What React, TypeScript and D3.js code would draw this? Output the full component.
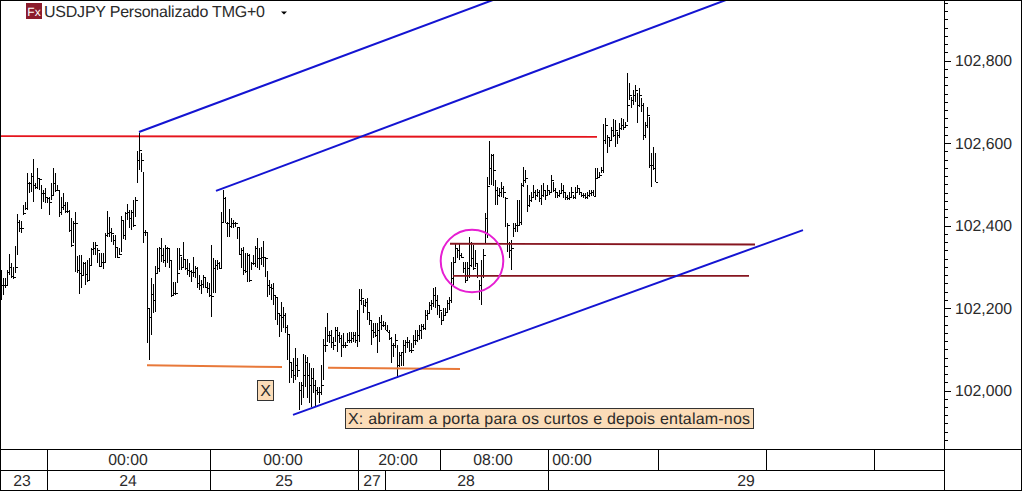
import React from "react";
import * as d3 from "d3";

// Prices are stored as points above the base price.
const PRICE_BASE = 102000;
const barHigh = [
  274,273,273,292,331,309,299,350,428,413, 411,450,457,527,505,527,561,503,539,515,
  498,486,491,469,469,503,539,527,498,486, 469,479,457,457,438,418,411,433,326,328,
  328,311,311,316,321,345,360,360,345,333, 333,333,382,435,421,394,377,377,348,345,
  423,413,433,452,438,438,462,469,581,624, 576,530,389,384,200,274,258,302,345,348,
  370,345,353,348,345,316,263,263,345,345, 323,360,319,319,309,292,323,302,299,280,
  268,280,275,263,261,353,321,316,316,311, 433,486,469,408,440,418,413,408,396,396,
  345,348,333,333,331,311,328,350,370,345, 348,362,323,290,268,258,261,231,224,188,
  214,202,188,159,137,69,79,103,79,21, 21,88,86,81,67,55,55,25,8,8,
  62,125,154,188,144,147,130,154,154,142, 135,139,118,139,142,142,142,142,195,246,
  246,219,222,224,188,171,164,164,164,178, 183,168,166,159,147,130,115,137,110,93,
  93,122,122,130,122,115,135,147,147,159, 161,161,195,195,214,219,248,251,231,207,
  190,200,200,219,227,311,323,358,345,358, 333,311,311,311,372,360,353,340,309,268,
  316,343,430,517,605,573,573,510,493,491, 505,496,469,406,360,365,406,406,462,462,
  503,542,534,498,474,481,498,486,488,486, 498,503,486,498,486,522,505,491,481,486,
  503,498,481,474,481,493,474,493,498,491, 481,479,479,481,486,486,486,539,539,530,
  542,647,660,619,614,638,658,655,626,648, 660,658,650,770,746,711,728,740,721,733,
  709,697,650,687,663,576,590,576,
];
const barLow = [
  219,232,248,256,280,273,270,285,328,384, 382,425,438,438,479,481,457,488,488,486,
  440,457,455,455,425,462,474,481,484,420, 425,438,430,430,384,348,358,287,285,234,
  248,280,256,263,265,304,328,328,309,299, 299,294,311,372,372,360,353,321,321,328,
  336,367,365,413,394,389,396,420,503,534, 530,358,374,115,73,134,188,190,285,287,
  311,309,299,309,297,226,231,231,261,292, 292,297,292,280,275,263,275,273,248,243,
  234,248,248,236,226,178,236,236,292,294, 297,406,406,372,372,394,394,396,367,328,
  297,280,285,263,263,292,304,299,297,292, 304,299,275,226,231,219,207,171,159,130,
  142,152,139,74,18,30,18,25,33,-47, -35,-18,8,-18,-30,-40,-6,-40,-11,-30,
  -11,25,93,118,115,103,98,118,93,115, 81,103,103,115,115,115,118,115,105,118,
  207,188,202,171,159,110,127,130,91,118, 147,154,147,142,122,67,81,103,30,57,
  59,59,91,103,93,91,103,110,118,122, 125,147,147,171,185,195,202,200,183,175,
  159,171,183,188,195,212,251,311,321,316, 321,285,261,268,273,299,292,299,273,219,
  207,273,357,369,498,498,496,450,450,469, 469,467,396,336,321,292,372,384,384,401,
  401,493,503,433,445,457,469,462,469,457, 450,469,462,472,474,481,481,467,467,469,
  479,467,462,462,462,469,464,464,479,474, 469,467,464,464,469,472,472,472,515,515,
  527,527,599,575,590,607,614,590,599,612, 631,631,638,650,705,685,692,699,648,687,
  675,607,612,636,539,493,534,505,
];
const barClose = [
  256,256,256,287,299,278,275,299,408,394, 394,430,442,503,503,520,498,493,515,513,
  479,479,469,468,457,474,503,486,486,432, 445,450,435,435,389,353,406,406,292,285,
  280,309,282,268,304,343,345,353,340,302, 311,311,377,382,384,382,365,348,323,331,
  413,377,430,433,418,433,401,462,559,583, 559,384,384,200,178,234,219,285,297,345,
  328,316,345,345,316,231,236,236,285,328, 299,319,297,292,290,287,287,297,261,256,
  258,275,251,248,231,229,297,304,309,297, 408,467,406,406,399,406,406,406,396,331,
  340,292,290,328,268,309,309,345,321,321, 323,323,321,256,251,248,231,226,188,183,
  178,183,154,137,69,50,38,62,50,1, 13,38,69,38,13,30,13,1,-4,-4,
  13,110,110,135,135,118,110,147,135,127, 110,110,110,122,122,127,135,122,135,219,
  224,207,214,190,171,147,142,135,147,166, 159,159,147,142,127,110,110,122,62,86,
  93,110,118,118,98,98,122,122,135,147, 156,151,183,188,207,212,231,219,207,195,
  171,183,190,212,219,273,311,345,340,328, 323,297,268,297,304,321,297,309,280,256,
  280,328,418,496,539,571,534,486,474,481, 491,481,467,401,340,345,394,401,401,408,
  498,510,515,450,462,469,481,474,481,467, 474,486,474,486,481,510,486,481,474,479,
  486,481,469,467,469,481,469,481,491,481, 474,474,469,474,479,481,472,515,517,522,
  534,607,643,614,607,631,619,631,619,636, 643,638,643,692,716,705,716,728,692,716,
  692,619,643,667,546,546,539,505,
];

// Drawn studies: [bar index, points] start and end.
const blueChannels = [
  [[68.75, 627], [245.75, 947]],
  [[107.25, 484], [362.25, 947]],
  [[145.75, -59], [400.75, 389]],
];
const redLevel = [[-0.75, 617], [297.75, 615]];
const orangeLevels = [
  [[72.75, 61], [140.25, 57]],
  [[163.25, 55], [229.25, 52]],
];
const darkRedLevels = [
  [[224.25, 356], [376.75, 354]],
  [[225.75, 278], [373.75, 278]],
];
const circleCentre = [235.25, 314];

const priceLabels = ["102,800", "102,600", "102,400", "102,200", "102,000"];
const priceLabelValues = [102800, 102600, 102400, 102200, 102000];
const timeLabels = ["00:00", "00:00", "20:00", "08:00", "00:00"];
const dayLabels = ["23", "24", "25", "27", "28", "29"];
const title = "USDJPY Personalizado TMG+0";
const note = "X: abriram a porta para os curtos e depois entalam-nos";

// Layout
const W = 1022, H = 491;
const AXIS_X = 944.5, ROW1 = 449.5, ROW2 = 470.5, BOTTOM = 490.5;
const timeDividers = [47.5, 210.5, 358.5, 440.5, 548.5, 658.5, 766.5, 874.5];
const dayDividers = [47.5, 210.5, 358.5, 385.5, 548.5];
const timeLabelX = [128, 283, 398, 493, 572];
const dayLabelX = [22, 128, 284, 372, 466, 746];
const FONT = "'Liberation Sans', Arial, sans-serif";
const TEXT = "#2a2a2a";
const NOTE_FILL = "#fbdcb8";

const xScale = d3.scaleLinear().domain([0, 327]).range([1.5, 655.5]);
const yScale = d3.scaleLinear().domain([101863, 102947]).range([447, 0]);
const toPath = d3
  .line<number[]>()
  .x((d) => xScale(d[0]))
  .y((d) => yScale(PRICE_BASE + d[1]));

export default function App() {
  const axisTicks = d3.range(101880, 102950, 20);
  return (
    <svg
      width={W}
      height={H}
      viewBox={`0 0 ${W} ${H}`}
      textRendering="geometricPrecision"
      style={{ position: "absolute", left: 0, top: 0, display: "block", background: "#fff" }}
    >
      <defs>
        <clipPath id="plot">
          <rect x={1} y={1} width={AXIS_X - 1} height={ROW1 - 1} />
        </clipPath>
      </defs>

      <g clipPath="url(#plot)">
        <path d={toPath(redLevel as number[][]) as string} fill="none" stroke="#e5141c" strokeWidth={1.9} />
        <g shapeRendering="crispEdges" stroke="#000" strokeWidth={1}>
          {barHigh.map((hi, i) => {
            const x = Math.round(xScale(i) - 0.5) + 0.5;
            const yC = Math.round(yScale(PRICE_BASE + barClose[i])) + 0.5;
            return (
              <g key={i}>
                <line x1={x} x2={x} y1={yScale(PRICE_BASE + hi)} y2={yScale(PRICE_BASE + barLow[i])} />
                <line x1={x} x2={x + 2} y1={yC} y2={yC} />
              </g>
            );
          })}
        </g>
        {orangeLevels.map((d, i) => (
          <path key={i} d={toPath(d as number[][]) as string} fill="none" stroke="#e8793a" strokeWidth={2} />
        ))}
        {darkRedLevels.map((d, i) => (
          <path key={i} d={toPath(d as number[][]) as string} fill="none" stroke="#86151f" strokeWidth={1.9} />
        ))}
        {blueChannels.map((d, i) => (
          <path key={i} d={toPath(d as number[][]) as string} fill="none" stroke="#1414d2" strokeWidth={2} />
        ))}
        <circle
          cx={xScale(circleCentre[0])}
          cy={yScale(PRICE_BASE + circleCentre[1])}
          r={31.3}
          fill="none"
          stroke="#e61ed2"
          strokeWidth={2}
        />
      </g>

      {/* title */}
      <rect x={26} y={3} width={16} height={16} fill="#8c1c2c" />
      <text x={34} y={15.5} textAnchor="middle" fontFamily={FONT} fontSize={12} fill="#fff">Fx</text>
      <text x={44} y={17} fontFamily={FONT} fontSize={16} textLength={221} lengthAdjust="spacing" fill={TEXT}>{title}</text>
      <path d={d3.line()([[281, 11.5], [287, 11.5], [284, 14.5]]) + "Z"} fill="#000" />

      {/* annotations */}
      <rect x={257.5} y={380.5} width={16} height={20} fill={NOTE_FILL} stroke="#333" />
      <text x={265.5} y={396} textAnchor="middle" fontFamily={FONT} fontSize={16} fill={TEXT}>X</text>
      <rect x={345.5} y={408.5} width={408} height={20} fill={NOTE_FILL} stroke="#333" />
      <text x={348} y={424} fontFamily={FONT} fontSize={16} textLength={402} lengthAdjust="spacing" fill={TEXT}>{note}</text>

      {/* frame and grid */}
      <g stroke="#000" strokeWidth={1} shapeRendering="crispEdges" fill="none">
        <line x1={0.5} x2={W - 0.5} y1={0.5} y2={0.5} />
        <line x1={0.5} x2={0.5} y1={0} y2={H} />
        <line x1={1.5} x2={1.5} y1={270} y2={300} />
        <line x1={W - 0.5} x2={W - 0.5} y1={0} y2={H} />
        <line x1={0} x2={W} y1={ROW1} y2={ROW1} />
        <line x1={0} x2={AXIS_X} y1={ROW2} y2={ROW2} />
        <line x1={0} x2={W} y1={BOTTOM} y2={BOTTOM} />
        <line x1={AXIS_X} x2={AXIS_X} y1={0} y2={H} />
        {timeDividers.map((x) => (
          <line key={x} x1={x} x2={x} y1={ROW1} y2={ROW2} />
        ))}
        {dayDividers.map((x) => (
          <line key={x} x1={x} x2={x} y1={ROW2} y2={BOTTOM} />
        ))}
        {axisTicks.map((p) => {
          const y = Math.round(yScale(p)) + 0.5;
          const major = p % 200 === 0;
          return <line key={p} x1={AXIS_X} x2={AXIS_X + (major ? 6 : 3)} y1={y} y2={y} />;
        })}
      </g>

      {/* axis labels */}
      <g fontFamily={FONT} fontSize={15.8} fill={TEXT}>
        {priceLabels.map((t, i) => (
          <text key={t} x={955} y={yScale(priceLabelValues[i]) + 5.5}>{t}</text>
        ))}
        {timeLabels.map((t, i) => (
          <text key={i} x={timeLabelX[i]} y={465} textAnchor="middle">{t}</text>
        ))}
        {dayLabels.map((t, i) => (
          <text key={t} x={dayLabelX[i]} y={486} textAnchor="middle">{t}</text>
        ))}
      </g>
    </svg>
  );
}
